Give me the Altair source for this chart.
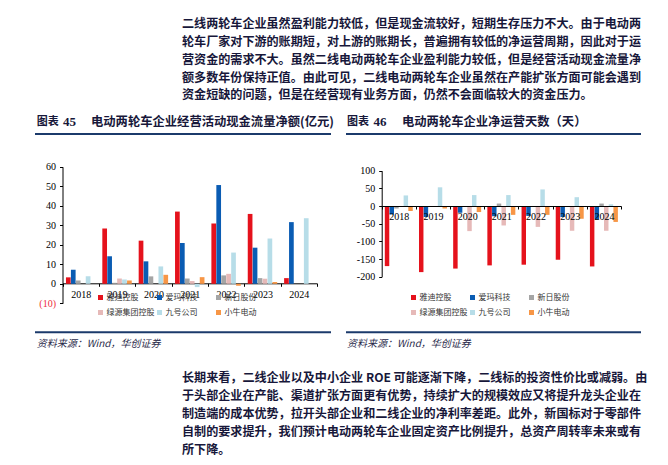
import altair as alt
import pandas as pd

# ---------------- data ----------------
years = ["2018", "2019", "2020", "2021", "2022", "2023", "2024"]
companies = ["雅迪控股", "爱玛科技", "新日股份", "绿源集团控股", "九号公司", "小牛电动"]
palette = ["#e5121c", "#0a5cb3", "#a5a5a5", "#e6b9b8", "#b7dde8", "#f79646"]

# 图表45 经营活动现金流量净额(亿元)
cash_yadea = [3.3, 28.3, 22.1, 37.0, 30.9, 35.8, 2.9]
cash_aima = [7.2, 14.1, 11.5, 20.9, 50.6, 18.5, 31.6]
cash_sunra = [1.7, 0.5, 3.8, 2.7, 4.3, 2.9, None]
cash_luyuan = [None, 2.7, None, 1.4, 5.1, 2.6, None]
cash_ninebot = [3.8, 2.2, 8.9, -1.7, 16.0, 23.2, 33.6]
cash_niu = [None, 1.7, 4.6, 3.4, -1.0, 0.9, None]

# 图表46 净运营天数（天）
days_yadea = [-170, -187, -177, -168, -166, -152, -171]
days_aima = [-24, -31, -19, -29, -28, -31, -38]
days_sunra = [-7, None, None, 7, None, None, 7]
days_luyuan = [None, None, -71, -55, -59, -70, -70]
days_ninebot = [30, 53, 31, 31, 47, 25, 5]
days_niu = [-14, -7, -17, -25, -25, -36, -45]

cash_ticks = [-10, 0, 10, 20, 30, 40, 50, 60]
days_ticks = [-200, -150, -100, -50, 0, 50, 100]

top_lines = [
    "二线两轮车企业虽然盈利能力较低，但是现金流较好，短期生存压力不大。由于电动两",
    "轮车厂家对下游的账期短，对上游的账期长，普遍拥有较低的净运营周期，因此对于运",
    "营资金的需求不大。虽然二线电动两轮车企业盈利能力较低，但是经营活动现金流量净",
    "额多数年份保持正值。由此可见，二线电动两轮车企业虽然在产能扩张方面可能会遇到",
    "资金短缺的问题，但是在经营现有业务方面，仍然不会面临较大的资金压力。",
]
bottom_lines = [
    "长期来看，二线企业以及中小企业 ROE 可能逐渐下降，二线标的投资性价比或减弱。由",
    "于头部企业在产能、渠道扩张方面更有优势，持续扩大的规模效应又将提升龙头企业在",
    "制造端的成本优势，拉开头部企业和二线企业的净利率差距。此外，新国标对于零部件",
    "自制的要求提升，我们预计电动两轮车企业固定资产比例提升，总资产周转率未来或有",
    "所下降。",
]
title1_num, title1_text = "45", "电动两轮车企业经营活动现金流量净额(亿元)"
title2_num, title2_text = "46", "电动两轮车企业净运营天数（天）"
source_text = "资料来源：Wind，华创证券"

CJK = "Noto Sans CJK SC"
SERIF = "Liberation Serif"
INK = "#17173a"
NAVY = "#1b3a6b"


def long_table(series):
    rows = []
    for comp, vals in zip(companies, series):
        for y, v in zip(years, vals):
            if v is not None:
                rows.append({"year": y, "company": comp, "value": v})
    return pd.DataFrame(rows)


cash_df = long_table([cash_yadea, cash_aima, cash_sunra, cash_luyuan, cash_ninebot, cash_niu])
days_df = long_table([days_yadea, days_aima, days_sunra, days_luyuan, days_ninebot, days_niu])


def bar_panel(df, xr, yr, ydom, yticks, x_off, y_off, lx, ly, label_expr, label_color,
              outer, xlab_pad, front):
    return alt.Chart(df).mark_bar().encode(
        x=alt.X("year:N", sort=years,
                scale=alt.Scale(domain=years, range=xr, paddingInner=0, paddingOuter=0),
                axis=alt.Axis(orient="bottom", offset=x_off, title=None, labelAngle=0,
                              tickBand="extent", tickSize=3, labelPadding=xlab_pad,
                              labelFont=SERIF, labelFontSize=10, labelColor="#000",
                              domainColor="#000", tickColor="#000", grid=False,
                              zindex=1 if front else 0)),
        xOffset=alt.XOffset("company:N",
                            scale=alt.Scale(domain=companies, paddingInner=0.05, paddingOuter=outer)),
        y=alt.Y("value:Q",
                scale=alt.Scale(domain=ydom, range=yr, nice=False, zero=False),
                axis=alt.Axis(orient="left", offset=y_off, title=None, values=yticks,
                              tickSize=3, labelPadding=4, labelFont=SERIF, labelFontSize=10,
                              labelExpr=label_expr, labelColor=label_color,
                              domainColor="#000", tickColor="#000", grid=False)),
        y2=alt.datum(0),
        color=alt.Color("company:N",
                        scale=alt.Scale(domain=companies, range=palette),
                        legend=alt.Legend(orient="none", legendX=lx, legendY=ly, columns=3,
                                          direction="horizontal",
                                          title=None, symbolType="square", symbolSize=25,
                                          symbolStrokeWidth=0, labelFont=CJK, labelFontSize=8,
                                          labelColor="#333", labelOffset=2, columnPadding=1,
                                          rowPadding=7, gridAlign="all", padding=0)),
    )


H = 449
panel1 = bar_panel(cash_df, [54.5, 309], [295.3, 158.7], [-10, 60], cash_ticks,
                   -(H - 275.3), -54.5, 88.5, 285.5,
                   "datum.value < 0 ? '(' + abs(datum.value) + ')' : '' + datum.value",
                   {"expr": "datum.value < 0 ? '#ee2b3b' : '#000000'"},
                   0.7, 3, False)
panel2 = bar_panel(days_df, [373.7, 613], [268.7, 162.7], [-200, 100], days_ticks,
                   -(H - 198.0), -373.7, 401.5, 285.5,
                   "datum.value < 0 ? '-' + abs(datum.value) : '' + datum.value",
                   "#000000",
                   0.66, 2, True)


def paragraph(lines, y0, step, x):
    df = pd.DataFrame({"i": list(range(len(lines))), "t": lines})
    n = len(lines) - 1
    return alt.Chart(df).mark_text(align="left", baseline="middle", font=CJK, fontSize=12.08,
                                   fontWeight="bold", color=INK).encode(
        x=alt.value(x),
        y=alt.Y("i:Q", scale=alt.Scale(domain=[0, n], range=[y0, y0 + step * n]), axis=None),
        text="t:N",
    )


def label(text, x, y, **style):
    return alt.Chart(pd.DataFrame({"t": [text]})).mark_text(
        align="left", baseline="middle", **style).encode(
        x=alt.value(x), y=alt.value(y), text="t:N")


def hline(x1, x2, y):
    return alt.Chart(pd.DataFrame({"a": [0]})).mark_rule(color=NAVY, strokeWidth=2).encode(
        x=alt.value(x1), x2=alt.value(x2), y=alt.value(y))


title_style = dict(font=CJK, fontSize=12.3, fontWeight="bold", color=INK)
head_style = dict(font=CJK, fontSize=11, fontWeight="bold", color=INK)
num_style = dict(font=SERIF, fontSize=13, fontWeight="bold", color=INK)
src_style = dict(font=CJK, fontSize=10, fontStyle="italic", color="#2b2b4b")

layers = [
    paragraph(top_lines, 15.8, 17.9, 174),
    paragraph(bottom_lines, 370.3, 17.9, 174),
    label("图表", 28.7, 114.3, **head_style),
    label(title1_num, 55, 114.3, **num_style),
    label(title1_text, 83, 114.3, **title_style),
    label("图表", 339, 114.3, **head_style),
    label(title2_num, 365.5, 114.3, **num_style),
    label(title2_text, 394, 114.3, **title_style),
    hline(27, 323, 126),
    hline(338, 633, 126),
    hline(27, 323, 324.3),
    hline(338, 633, 324.3),
    label(source_text, 28.7, 336, **src_style),
    label(source_text, 339, 336, **src_style),
    panel1,
    panel2,
]

chart = alt.layer(*layers).resolve_scale(
    x="independent", y="independent", color="independent", xOffset="independent"
).resolve_axis(x="independent", y="independent").resolve_legend(color="independent").properties(
    width=652, height=H, padding=0, autosize=alt.AutoSizeParams(type="none"),
    background="#ffffff",
).configure_view(strokeWidth=0)

chart.save("out.html", embed_options={"renderer": "svg", "actions": False})
